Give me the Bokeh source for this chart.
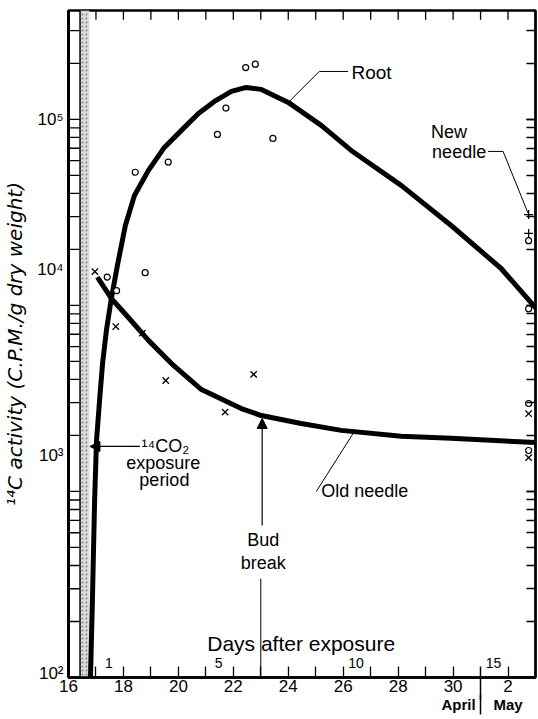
from bokeh.plotting import figure
from bokeh.models import (LogAxis, LinearAxis, FixedTicker, LogTicker, Span,
                          BoxAnnotation, Arrow, NormalHead, CustomJSTickFormatter)
from bokeh.core.properties import value
from bokeh.embed import file_html
from bokeh.resources import INLINE

# ---------------- data (x = day number, April 16 = 16, May 1 = 31) ----------------
root_curve_day = [16.80, 16.87, 16.95, 17.02, 17.13, 17.24, 17.38, 17.56, 17.78, 18.07, 18.40,
                  18.91, 19.49, 20.11, 20.73, 21.31, 21.93, 22.47, 23.02, 24.00, 25.20, 26.29,
                  28.11, 29.93, 31.75, 33.02]
root_curve_cpm = [100, 259, 895, 1880, 3080, 4870, 7340, 10900, 16400, 26900, 39000,
                  53200, 70700, 87300, 107700, 125000, 141600, 148600, 145000, 123400, 92900, 68100,
                  44200, 26900, 15800, 9640]

old_curve_day = [17.05, 17.56, 18.18, 18.91, 19.75, 20.84, 22.29, 23.02, 24.47, 25.93, 28.11, 29.93, 33.09]
old_curve_cpm = [14200, 10900, 8610, 6490, 4870, 3530, 2790, 2560, 2320, 2130, 1980, 1930, 1830]

root_obs_day = [17.41, 17.75, 18.43, 18.79, 19.63, 21.42, 21.73, 22.45, 22.80, 23.44,
                32.75, 32.75, 32.75, 32.75]
root_obs_cpm = [14200, 12000, 52000, 15000, 59000, 83000, 115000, 190000, 198000, 79000,
                22300, 9600, 2970, 1660]

old_obs_day = [16.96, 17.72, 18.69, 19.54, 21.70, 22.74, 32.75, 32.75]
old_obs_cpm = [15200, 7700, 7100, 3950, 2670, 4260, 2620, 1520]

new_obs_day = [32.75, 32.75]
new_obs_cpm = [30800, 24400]

tick_days = [16, 18, 20, 22, 24, 26, 28, 30, 32]
tick_labels = ["16", "18", "20", "22", "24", "26", "28", "30", "2"]
all_days = list(range(17, 33))
days_after = [1, 5, 10, 15]
days_after_origin = 16.47

decades = [100, 1000, 10000, 100000]
decade_labels = ["10\u00b2", "10\u00b3", "10\u2074", "10\u2075"]
# in the original the printed 10^3 and 10^4 sit a little above their ticks
decade_label_shift = [1.05, 1.56, 1.56, 1.0]

month_names = ["April", "May"]
month_label_days = [30.2, 32.0]
month_change_day = 31

exposure_start, exposure_end = 16.42, 16.76
bud_break_day = 23.05
x_start, x_end = 16, 33
y_start, y_end = 1e2, 3.85e5
top_tick_factor = 1.12   # length of the top inward ticks (ratio on the log axis)

FONT = "Liberation Sans"

p = figure(width=538, height=719, x_range=(x_start, x_end), y_range=(y_start, y_end),
           y_axis_type="log", output_backend="svg", toolbar_location=None,
           min_border_left=67, min_border_right=3, min_border_top=10, min_border_bottom=42)
p.grid.visible = False
p.outline_line_color = "black"
p.outline_line_width = 2.5
p.background_fill_color = "white"
p.border_fill_color = "white"

# bottom axis: inward day ticks, date labels, upper part of the April|May divider
day_ticks = [d for d in range(16, 33) if d != month_change_day]
day_label_map = {d: "" for d in day_ticks}
day_label_map.update({d: l for d, l in zip(tick_days, tick_labels)})
xa = p.xaxis[0]
xa.ticker = FixedTicker(ticks=day_ticks, minor_ticks=[month_change_day])
xa.major_label_overrides = day_label_map
xa.axis_line_width = 2.5
xa.major_tick_in = 11
xa.major_tick_out = 0
xa.minor_tick_in = 11
xa.minor_tick_out = 22
xa.major_tick_line_width = 1.3
xa.minor_tick_line_width = 1.5
xa.major_label_standoff = -20
xa.major_label_text_font_size = "17px"
xa.major_label_text_font = FONT
xa.major_label_text_color = "black"

# second bottom axis: month names and the lower part of the divider
ma = LinearAxis(ticker=FixedTicker(ticks=month_label_days, minor_ticks=[month_change_day]))
ma.major_label_overrides = {d: n for d, n in zip(month_label_days, month_names)}
ma.axis_line_color = None
ma.major_tick_line_color = None
ma.major_tick_in = 0
ma.major_tick_out = 0
ma.minor_tick_in = 0
ma.minor_tick_out = 20
ma.minor_tick_line_width = 1.5
ma.major_label_standoff = -19
ma.major_label_text_font_size = "15px"
ma.major_label_text_font = FONT
ma.major_label_text_font_style = "bold"
ma.major_label_text_color = "black"
p.add_layout(ma, "below")

# left axis: labels and title (the tick ladder is drawn below)
label_pos = [d * s for d, s in zip(decades, decade_label_shift)]
ya = p.yaxis[0]
ya.ticker = FixedTicker(ticks=label_pos)
ya.major_label_overrides = {v: l for v, l in zip(label_pos, decade_labels)}
ya.axis_line_width = 3
ya.major_tick_line_color = None
ya.minor_tick_line_color = None
ya.major_tick_in = 0
ya.major_tick_out = 0
ya.minor_tick_in = 0
ya.minor_tick_out = 0
ya.major_label_standoff = 5
ya.major_label_text_font_size = "17px"
ya.major_label_text_font = FONT
ya.major_label_text_color = "black"
ya.axis_label = "\u00b9\u2074C activity (C.P.M./g dry weight)"
ya.axis_label_standoff = 7
ya.axis_label_text_font = "DejaVu Sans"
ya.axis_label_text_font_style = "italic"
ya.axis_label_text_font_size = "20px"
ya.axis_label_text_color = "black"

# right axis
ra = LogAxis(ticker=LogTicker(mantissas=[1], num_minor_ticks=10),
             formatter=CustomJSTickFormatter(code="return ''"))
ra.axis_line_width = 2
ra.major_tick_in = 9
ra.major_tick_out = 0
ra.minor_tick_in = 9
ra.minor_tick_out = 0
ra.major_tick_line_width = 1.3
ra.minor_tick_line_width = 1.3
ra.major_label_text_color = None
ra.major_label_text_font_size = "8px"
ra.major_label_standoff = 0
p.add_layout(ra, "right")

# exposure period: stippled band and inner ladder line
p.add_layout(BoxAnnotation(left=exposure_start, right=exposure_end, fill_color="#dcdcdc",
                           fill_alpha=1, line_alpha=0, hatch_pattern=".", hatch_scale=4,
                           hatch_color="#8a8a8a", level="underlay"))
p.add_layout(Span(location=exposure_start, dimension="height", line_color="black",
                  line_width=1.5))

# left tick ladder (every 1..9 x decade, between frame and inner line) and top day ticks
ladder_ticks = [m * d for d in decades for m in range(1, 10) if m * d <= y_end]
p.segment(x0=[x_start] * len(ladder_ticks), y0=ladder_ticks,
          x1=[exposure_start] * len(ladder_ticks), y1=ladder_ticks,
          line_color="black", line_width=1.3)
p.segment(x0=all_days, y0=[y_end] * len(all_days), x1=all_days,
          y1=[y_end / top_tick_factor] * len(all_days), line_color="black", line_width=1.3)

# curves
p.line(root_curve_day, root_curve_cpm, line_width=5, line_color="black", line_join="round")
p.line(old_curve_day, old_curve_cpm, line_width=5, line_color="black", line_join="round")

# observations
p.scatter(root_obs_day, root_obs_cpm, marker="circle", size=6, fill_color="white",
          line_color="black", line_width=1.2)
p.scatter(old_obs_day, old_obs_cpm, marker="x", size=9, line_color="black", line_width=1.3)
p.scatter(new_obs_day, new_obs_cpm, marker="cross", size=9, line_color="black", line_width=1.3)

# leader lines
p.line([24.04, 25.13, 26.18], [125000, 181000, 181000], line_color="black", line_width=1)
p.line([31.27, 31.82, 32.73], [67300, 67300, 31300], line_color="black", line_width=1)
p.line([26.36, 25.02], [2050, 1000], line_color="black", line_width=1)
p.segment(x0=[bud_break_day - 0.05], y0=[340], x1=[bud_break_day - 0.05], y1=[y_start],
          line_color="black", line_width=1)


def txt(x, y, s, size="18px", align="center"):
    p.text(x=[x], y=[y], text=[s], text_font=value(FONT), text_font_size=size,
           text_align=align, text_baseline="middle", text_color="black")


txt(26.30, 179000, "Root", "19px", "left")
txt(29.85, 86100, "New")
txt(30.22, 66600, "needle")
txt(25.20, 1000, "Old needle", "18px", "left")
txt(bud_break_day + 0.04, 546, "Bud")
txt(bud_break_day + 0.04, 415, "break")
txt(19.53, 1766, "\u00b9\u2074CO\u2082")
txt(19.45, 1416, "exposure")
txt(19.49, 1146, "period")
txt(24.47, 152, "Days after exposure", "21px")
for n in days_after:
    txt(days_after_origin + n, 120, str(n), "14px")

# arrows
p.add_layout(Arrow(end=NormalHead(size=10, fill_color="black", line_color="black"),
                   x_start=18.6, y_start=1746, x_end=exposure_end + 0.02, y_end=1746,
                   line_width=1.2, line_color="black"))
p.add_layout(Arrow(end=NormalHead(size=10, fill_color="black", line_color="black"),
                   x_start=bud_break_day, y_start=656, x_end=bud_break_day, y_end=2470,
                   line_width=1.2, line_color="black"))

open("out.html", "w").write(file_html(p, INLINE))
